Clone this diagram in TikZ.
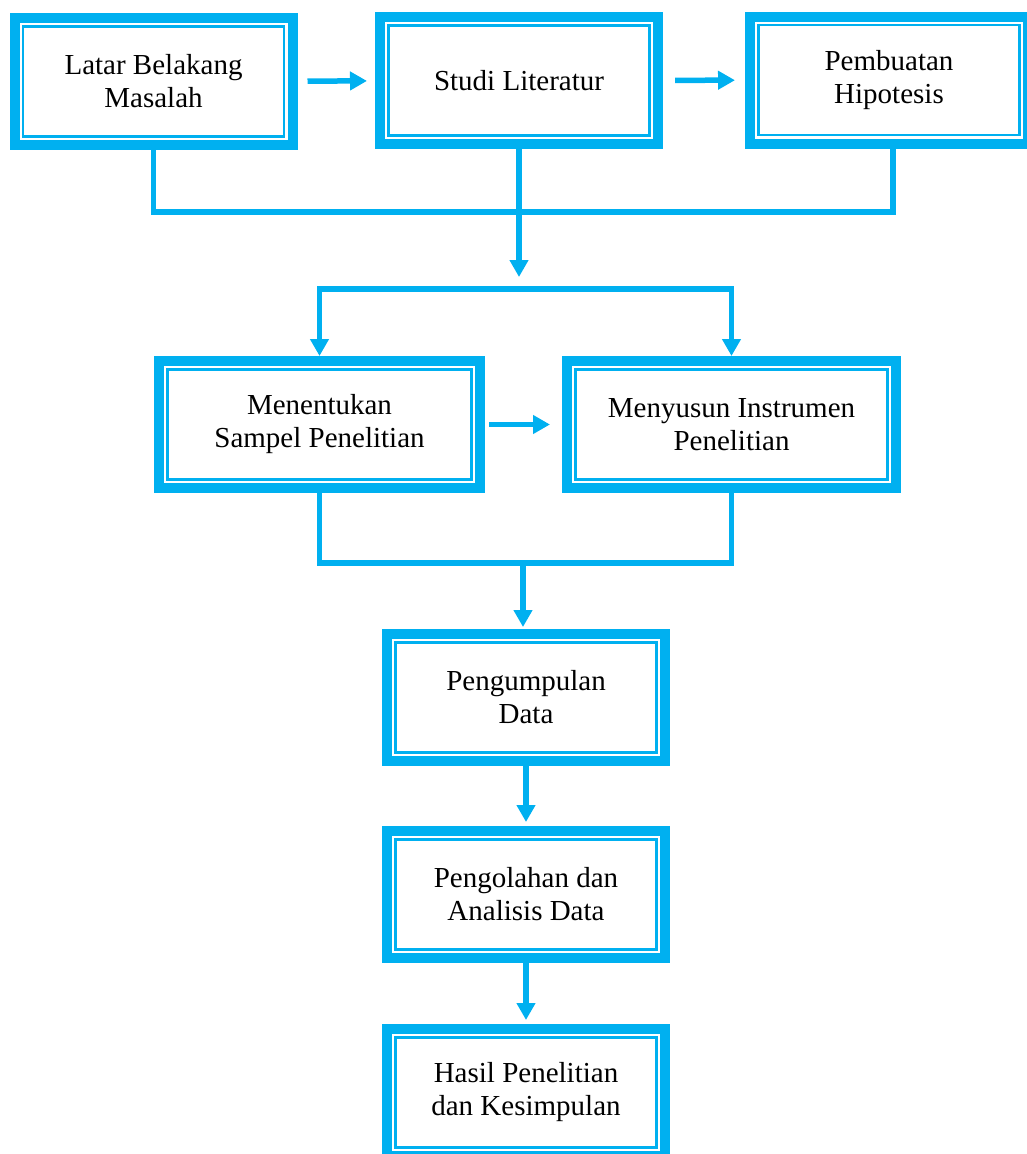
\documentclass[tikz,border=0pt]{standalone}
\usepackage{fontspec}
\setmainfont{Liberation Serif}
\usetikzlibrary{arrows.meta}
\definecolor{flowblue}{RGB}{0,176,240}

\begin{document}
\begin{tikzpicture}[x=1pt, y=-1pt, >={Triangle[width=18pt,length=17pt]},
    stage/.style={draw=flowblue, line width=10pt, outer sep=5pt, inner sep=0pt,
      minimum width=278pt, minimum height=127pt, align=center,
      font=\fontsize{29}{33}\selectfont,
      path picture={\draw[flowblue, line width=2.3pt]
        ([shift={(8.5pt,-8.5pt)}]path picture bounding box.north west) rectangle
        ([shift={(-8.5pt,8.5pt)}]path picture bounding box.south east);}},
    link/.style={draw=flowblue, line width=5.5pt}]
  \useasboundingbox (0,0) rectangle (1027,1154);
  \clip (0,0) rectangle (1027,1154);

  \node[stage] (latar) at (153.5,81.5) {Latar Belakang\\Masalah};
  \node[stage] (studi) at (519,80.5) {Studi Literatur};
  \node[stage] (hipo) at (889,80) {Pembuatan\\Hipotesis};
  \node[stage, minimum width=321pt] (sampel) at (319.5,424.5) {Menentukan\\Sampel Penelitian};
  \node[stage, minimum width=329pt] (instrumen) at (731.5,424.5) {Menyusun Instrumen\\Penelitian};
  \node[stage] (kumpul) at (526,697.5) {Pengumpulan\\Data};
  \node[stage] (olah) at (526,894.5) {Pengolahan dan\\Analisis Data};
  \node[stage] (hasil) at (526,1092.5) {Hasil Penelitian\\dan Kesimpulan};

  \coordinate (rowA) at (519,212);
  \coordinate (tipA) at (519,277);
  \coordinate (rowB) at (526,289);
  \coordinate (rowC) at (523,563);

  % top row
  \draw[link,->, shorten <=10pt, shorten >=8pt] (latar) -- (studi);
  \draw[link,->, shorten <=12pt, shorten >=10pt] (studi) -- (hipo);
  \draw[link] (latar.south) |- (rowA) -| ([xshift=4pt]hipo.south);
  \draw[link,->] (studi.south) -- (tipA);

  % middle row
  \draw[link,<->] (sampel.north) |- (rowB) -| (instrumen.north);
  \draw[link,->, shorten <=4pt, shorten >=12pt] (sampel) -- (instrumen);
  \draw[link] (sampel.south) |- (rowC) -| (instrumen.south);
  \draw[link,->, shorten >=2pt] (rowC) -- (rowC |- kumpul.north);

  % bottom column
  \draw[link,->, shorten >=4pt] (kumpul) -- (olah);
  \draw[link,->, shorten >=4pt] (olah) -- (hasil);
\end{tikzpicture}
\end{document}
